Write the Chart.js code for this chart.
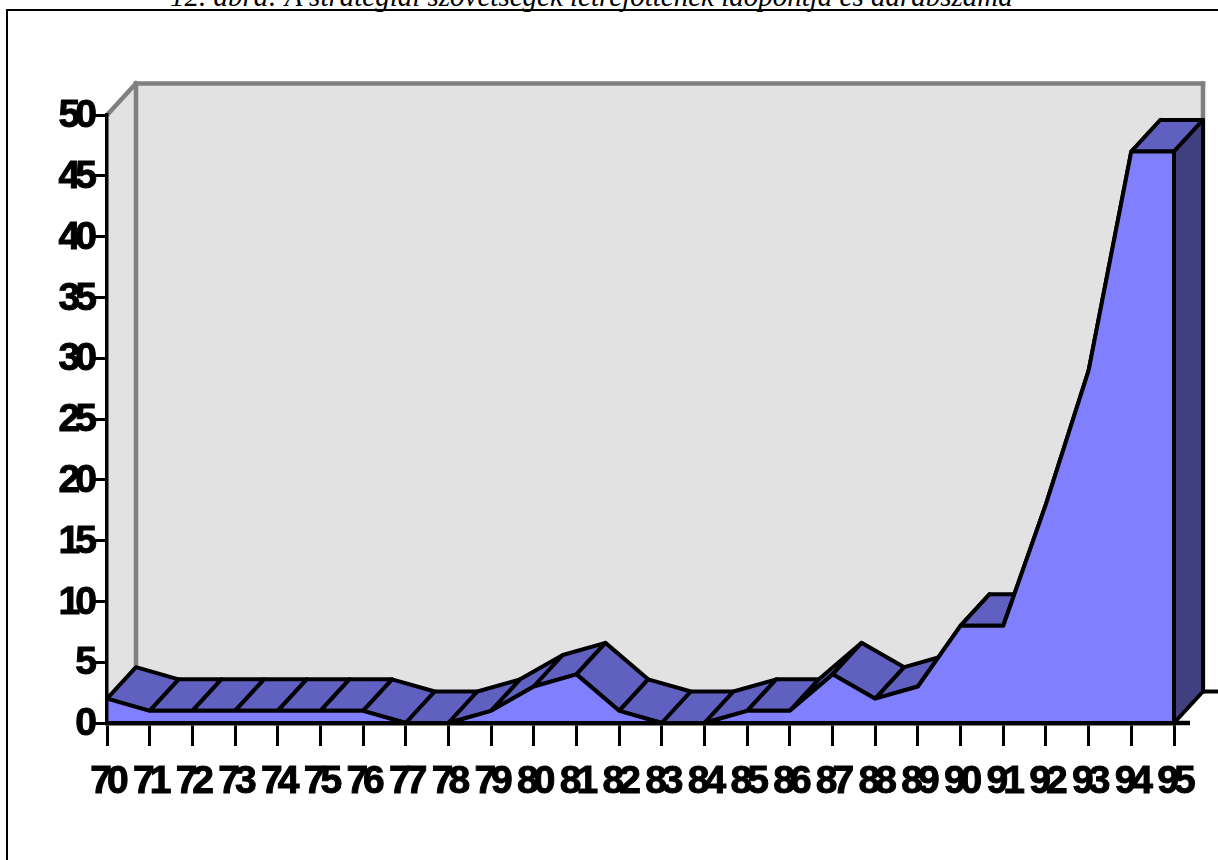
<!DOCTYPE html>
<html>
<head>
<meta charset="utf-8">
<title>Stratégiai szövetségek</title>
<script src="https://cdn.jsdelivr.net/npm/chart.js@4/dist/chart.umd.min.js"></script>
<style>
  html, body { margin: 0; padding: 0; background: #fff; overflow: hidden; width: 1218px; height: 860px; }
  #frame { position: absolute; left: 6px; top: 9px; width: 1300px; height: 1000px; border-left: 2px solid #000; border-top: 2px solid #000; }
  #caption { position: absolute; left: 170px; top: -20px; white-space: nowrap; font: italic 29px "Liberation Serif", serif; color: #000; }
  #myChart { position: absolute; left: 0; top: 0; }
</style>
</head>
<body>
<div id="frame"></div>
<div id="caption">12. ábra: A stratégiai szövetségek létrejöttének időpontja és darabszáma</div>
<canvas id="myChart" width="1218" height="860"></canvas>
<script>
var years = ['70','71','72','73','74','75','76','77','78','79','80','81','82','83','84','85','86','87','88','89','90','91','92','93','94','95']
var counts = [2,1,1,1,1,1,1,0,0,1,3,4,1,0,0,1,1,4,2,3,8,8,18,29,47,47]
var yTicks = [0,5,10,15,20,25,30,35,40,45,50]

var depthX = 29
var depthY = -31.5
var wallColor = '#e2e2e2'
var wallEdge = '#808080'
var frontColor = '#8080ff'
var topColor = '#6060c0'
var sideColor = '#404080'

function poly(ctx, pts, fill, stroke, width){
  ctx.beginPath()
  pts.forEach((p, i) => i ? ctx.lineTo(p[0], p[1]) : ctx.moveTo(p[0], p[1]))
  ctx.closePath()
  if(fill){
    ctx.fillStyle = fill
    ctx.fill()
  }
  if(stroke){
    ctx.strokeStyle = stroke
    ctx.lineWidth = width
    ctx.stroke()
  }
}

function line(ctx, x1, y1, x2, y2, color, width){
  ctx.beginPath()
  ctx.moveTo(x1, y1)
  ctx.lineTo(x2, y2)
  ctx.strokeStyle = color
  ctx.lineWidth = width
  ctx.stroke()
}

// walls and the ribbon of the area, all taken from the chart scales
var box3d = {
  id: 'box3d',
  beforeDraw(chart){
    chart.ctx.letterSpacing = '-5px'
  },
  beforeDatasetsDraw(chart){
    let ctx = chart.ctx
    let x = chart.scales.x
    let y = chart.scales.y
    let left = x.getPixelForValue(0)
    let right = x.getPixelForValue(years.length - 1)
    let top = y.getPixelForValue(50)
    let base = y.getPixelForValue(0)
    ctx.save()
    ctx.lineJoin = 'round'
    poly(ctx, [[left, base], [left, top], [left + depthX, top + depthY], [left + depthX, base + depthY]], wallColor)
    poly(ctx, [[left + depthX, top + depthY], [right + depthX, top + depthY], [right + depthX, base + depthY], [left + depthX, base + depthY]], wallColor)
    ctx.lineCap = 'square'
    line(ctx, left, top, left + depthX, top + depthY, wallEdge, 4.5)
    line(ctx, left + depthX, top + depthY, right + depthX, top + depthY, wallEdge, 4.5)
    line(ctx, left + depthX, top + depthY, left + depthX, base + depthY, wallEdge, 4.5)
    line(ctx, right + depthX, top + depthY, right + depthX, base + depthY, wallEdge, 4.5)
    ctx.lineCap = 'butt'
    for(let i = 0; i < counts.length - 1; i++){
      let x1 = x.getPixelForValue(i)
      let x2 = x.getPixelForValue(i + 1)
      let y1 = y.getPixelForValue(counts[i])
      let y2 = y.getPixelForValue(counts[i + 1])
      poly(ctx, [[x1, y1], [x2, y2], [x2 + depthX, y2 + depthY], [x1 + depthX, y1 + depthY]], topColor, '#000', 4)
    }
    ctx.restore()
  },
  afterDatasetsDraw(chart){
    let ctx = chart.ctx
    let x = chart.scales.x
    let y = chart.scales.y
    let last = counts.length - 1
    let right = x.getPixelForValue(last)
    let top = y.getPixelForValue(counts[last])
    let base = y.getPixelForValue(0)
    ctx.save()
    ctx.lineJoin = 'round'
    poly(ctx, [[right, top], [right + depthX, top + depthY], [right + depthX, base + depthY], [right, base]], sideColor, '#000', 4)
    // floor edge behind the end face, axis stub in front of it
    line(ctx, right + depthX, base + depthY, chart.width, base + depthY, '#000', 4)
    line(ctx, right, base, right + 16, base, '#000', 4.5)
    ctx.restore()
  }
}

var ctx = document.getElementById('myChart').getContext('2d')
var tickFont = { family: '"Liberation Sans", Arial, sans-serif', weight: 'bold', size: 39 }

var chart = new Chart(ctx, {
  type: 'line',
  data: {
    labels: years,
    datasets: [{
      label: 'darabszám',
      data: counts,
      borderColor: '#000',
      borderWidth: 4,
      borderJoinStyle: 'round',
      backgroundColor: frontColor,
      fill: 'origin',
      tension: 0,
      pointRadius: 0,
      clip: false
    }]
  },
  options: {
    responsive: false,
    animation: false,
    layout: { padding: { top: 115, right: 44, left: 0, bottom: 0 } },
    plugins: { legend: { display: false }, title: { display: false }, tooltip: { enabled: false } },
    scales: {
      x: {
        offset: false,
        afterFit(scale){ scale.height = 137 },
        border: { color: '#000', width: 4.5, z: 2 },
        grid: { drawOnChartArea: false, color: '#000', lineWidth: 3, tickLength: 23, z: 2 },
        ticks: { color: '#000', font: tickFont, padding: 13, autoSkip: false, maxRotation: 0, minRotation: 0, textStrokeColor: '#000', textStrokeWidth: 1 }
      },
      y: {
        min: 0,
        max: 50,
        afterFit(scale){ scale.width = 107 },
        afterBuildTicks(scale){ scale.ticks = yTicks.map(v => ({ value: v })) },
        border: { color: '#000', width: 3.5, z: 2 },
        grid: { drawOnChartArea: false, color: '#000', lineWidth: 3, tickLength: 15, z: 2 },
        ticks: { color: '#000', font: tickFont, padding: 0, labelOffset: 1.5, textStrokeColor: '#000', textStrokeWidth: 1 }
      }
    }
  },
  plugins: [box3d]
})
</script>
</body>
</html>
